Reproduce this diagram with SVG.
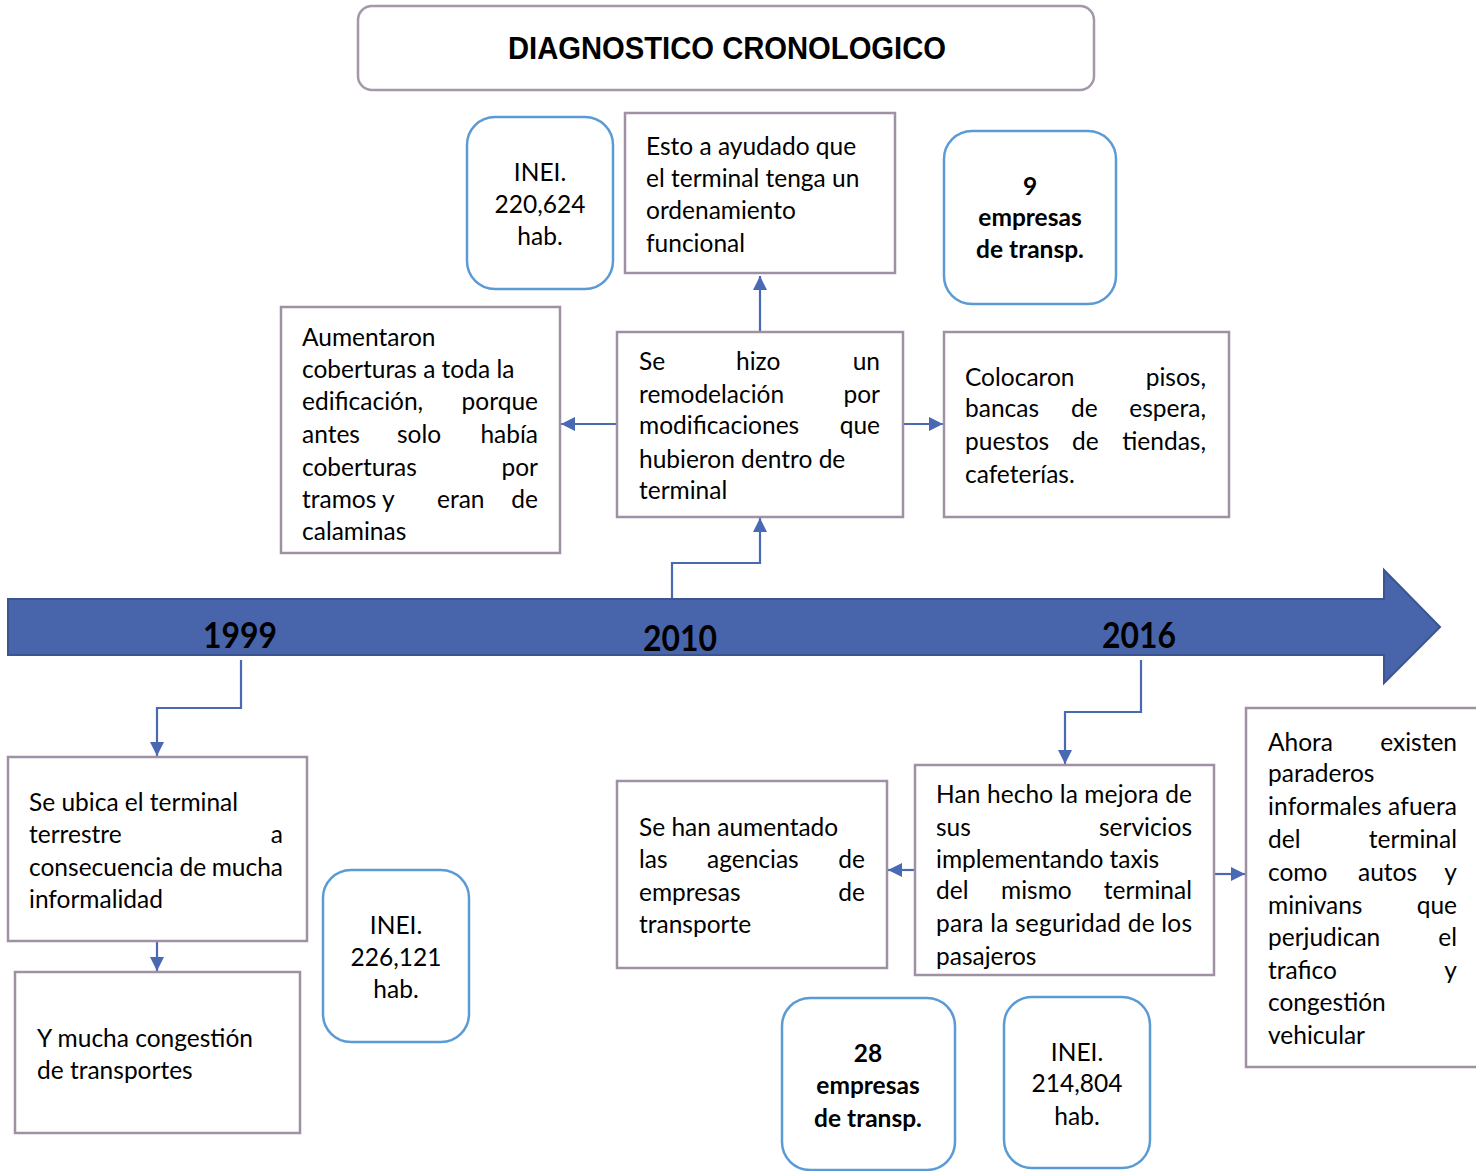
<svg xmlns="http://www.w3.org/2000/svg" width="1476" height="1171" viewBox="0 0 1476 1171">
  <style>
    .t { font-family: Lato, "Open Sans", "Liberation Sans", sans-serif; font-size: 24.5px; fill: #000; }
    .b { font-weight: bold; }
    .c { text-anchor: middle; }
    .r { text-anchor: end; }
    .box { fill: #fff; stroke: #9e91a3; stroke-width: 2.5; }
    .pill { fill: #fff; stroke: #5b9bd5; stroke-width: 2.5; }
    .link { fill: none; stroke: #4a69b3; stroke-width: 2.2; marker-end: url(#head); }
    .year { font-family: Lato, "Open Sans", "Liberation Sans", sans-serif; font-weight: bold; font-size: 36px; fill: #000; text-anchor: middle; }
  </style>
  <defs>
    <marker id="head" viewBox="0 0 10 10" refX="10" refY="5" markerUnits="userSpaceOnUse" markerWidth="15" markerHeight="14" orient="auto">
      <path d="M0,0 L10,5 L0,10 z" fill="#4a69b3"/>
    </marker>
  </defs>
  <rect width="1476" height="1171" fill="#fff"/>

  <!-- title -->
  <g id="title">
    <rect x="358" y="6" width="736" height="84" rx="14" fill="#fff" stroke="#a397a8" stroke-width="2.5"/>
    <text x="727" y="59" font-family="'Liberation Sans', Arial, sans-serif" font-weight="bold" font-size="31" text-anchor="middle" textLength="438" lengthAdjust="spacingAndGlyphs">DIAGNOSTICO CRONOLOGICO</text>
  </g>

  <!-- timeline arrow -->
  <g id="timeline">
    <path d="M8,599 H1384 V570 L1440,627 L1384,683 V655 H8 Z" fill="#4865ac" stroke="#3b5592" stroke-width="2"/>
    <text class="year" x="240" y="648" textLength="74" lengthAdjust="spacingAndGlyphs">1999</text>
    <text class="year" x="680" y="651" textLength="74" lengthAdjust="spacingAndGlyphs">2010</text>
    <text class="year" x="1139" y="648" textLength="74" lengthAdjust="spacingAndGlyphs">2016</text>
  </g>

  <!-- connectors -->
  <g id="connectors">
    <path class="link" d="M672,598 V563 H760 V518"/>
    <path class="link" d="M760,332 V276"/>
    <path class="link" d="M617,424 H561"/>
    <path class="link" d="M903,424 H943"/>
    <path class="link" d="M241,660 V708 H157 V756"/>
    <path class="link" d="M157,941 V971"/>
    <path class="link" d="M1141,660 V712 H1065 V764"/>
    <path class="link" d="M915,870 H888"/>
    <path class="link" d="M1214,874 H1245"/>
  </g>

  <!-- 2010 branch -->
  <g id="inei-2010">
    <rect class="pill" x="467" y="117" width="146" height="172" rx="28"/>
    <text class="t c" x="540" y="181">INEI.</text>
    <text class="t c" x="540" y="213">220,624</text>
    <text class="t c" x="540" y="245">hab.</text>
  </g>

  <g id="ordenamiento">
    <rect class="box" x="625" y="113" width="270" height="160"/>
    <text class="t" x="646" y="155">Esto a ayudado que</text>
    <text class="t" x="646" y="187">el terminal tenga un</text>
    <text class="t" x="646" y="219">ordenamiento</text>
    <text class="t" x="646" y="252">funcional</text>
  </g>

  <g id="empresas-2010">
    <rect class="pill" x="944" y="131" width="172" height="173" rx="28"/>
    <text class="t b c" x="1030" y="195">9</text>
    <text class="t b c" x="1030" y="226">empresas</text>
    <text class="t b c" x="1030" y="258">de transp.</text>
  </g>

  <g id="coberturas">
    <rect class="box" x="281" y="307" width="279" height="246"/>
    <text class="t" x="302" y="346">Aumentaron</text>
    <text class="t" x="302" y="378">coberturas a toda la</text>
    <text class="t" x="302" y="410">edificación,</text>
    <text class="t r" x="538" y="410">porque</text>
    <text class="t" x="302" y="443">antes</text>
    <text class="t" x="397" y="443">solo</text>
    <text class="t r" x="538" y="443">había</text>
    <text class="t" x="302" y="476">coberturas</text>
    <text class="t r" x="538" y="476">por</text>
    <text class="t" x="302" y="508">tramos y</text>
    <text class="t" x="437" y="508">eran</text>
    <text class="t r" x="538" y="508">de</text>
    <text class="t" x="302" y="540">calaminas</text>
  </g>

  <g id="remodelacion">
    <rect class="box" x="617" y="332" width="286" height="185"/>
    <text class="t" x="639" y="370">Se</text>
    <text class="t" x="736" y="370">hizo</text>
    <text class="t r" x="880" y="370">un</text>
    <text class="t" x="639" y="403">remodelación</text>
    <text class="t r" x="880" y="403">por</text>
    <text class="t" x="639" y="434">modificaciones</text>
    <text class="t r" x="880" y="434">que</text>
    <text class="t" x="639" y="468">hubieron dentro de</text>
    <text class="t" x="639" y="499">terminal</text>
  </g>

  <g id="pisos">
    <rect class="box" x="944" y="332" width="285" height="185"/>
    <text class="t" x="965" y="386">Colocaron</text>
    <text class="t r" x="1206" y="386">pisos,</text>
    <text class="t" x="965" y="417">bancas</text>
    <text class="t" x="1071" y="417">de</text>
    <text class="t r" x="1206" y="417">espera,</text>
    <text class="t" x="965" y="450">puestos</text>
    <text class="t" x="1072" y="450">de</text>
    <text class="t r" x="1206" y="450">tiendas,</text>
    <text class="t" x="965" y="483">cafeterías.</text>
  </g>

  <!-- 1999 branch -->
  <g id="ubicacion">
    <rect class="box" x="8" y="757" width="299" height="184"/>
    <text class="t" x="29" y="811">Se ubica el terminal</text>
    <text class="t" x="29" y="843">terrestre</text>
    <text class="t r" x="283" y="843">a</text>
    <text class="t" x="29" y="876">consecuencia de</text>
    <text class="t r" x="283" y="876">mucha</text>
    <text class="t" x="29" y="908">informalidad</text>
  </g>

  <g id="congestion">
    <rect class="box" x="15" y="972" width="285" height="161"/>
    <text class="t" x="37" y="1047">Y mucha congestión</text>
    <text class="t" x="37" y="1079">de transportes</text>
  </g>

  <g id="inei-1999">
    <rect class="pill" x="323" y="870" width="146" height="172" rx="28"/>
    <text class="t c" x="396" y="934">INEI.</text>
    <text class="t c" x="396" y="966">226,121</text>
    <text class="t c" x="396" y="998">hab.</text>
  </g>

  <!-- 2016 branch -->
  <g id="agencias">
    <rect class="box" x="617" y="781" width="270" height="187"/>
    <text class="t" x="639" y="836">Se han aumentado</text>
    <text class="t" x="639" y="868">las</text>
    <text class="t" x="707" y="868">agencias</text>
    <text class="t r" x="865" y="868">de</text>
    <text class="t" x="639" y="901">empresas</text>
    <text class="t r" x="865" y="901">de</text>
    <text class="t" x="639" y="933">transporte</text>
  </g>

  <g id="servicios">
    <rect class="box" x="915" y="765" width="299" height="210"/>
    <text class="t" x="936" y="803" textLength="256" lengthAdjust="spacing">Han hecho la mejora de</text>
    <text class="t" x="936" y="836">sus</text>
    <text class="t r" x="1192" y="836">servicios</text>
    <text class="t" x="936" y="868">implementando taxis</text>
    <text class="t" x="936" y="899">del</text>
    <text class="t" x="1001" y="899">mismo</text>
    <text class="t r" x="1192" y="899">terminal</text>
    <text class="t" x="936" y="932" textLength="256" lengthAdjust="spacing">para la seguridad de los</text>
    <text class="t" x="936" y="965">pasajeros</text>
  </g>

  <g id="paraderos">
    <rect class="box" x="1246" y="708" width="240" height="359"/>
    <text class="t" x="1268" y="751">Ahora</text>
    <text class="t r" x="1457" y="751">existen</text>
    <text class="t" x="1268" y="782">paraderos</text>
    <text class="t" x="1268" y="815" textLength="189" lengthAdjust="spacing">informales afuera</text>
    <text class="t" x="1268" y="848">del</text>
    <text class="t r" x="1457" y="848">terminal</text>
    <text class="t" x="1268" y="881">como</text>
    <text class="t" x="1358" y="881">autos</text>
    <text class="t r" x="1457" y="881">y</text>
    <text class="t" x="1268" y="914">minivans</text>
    <text class="t r" x="1457" y="914">que</text>
    <text class="t" x="1268" y="946">perjudican</text>
    <text class="t r" x="1457" y="946">el</text>
    <text class="t" x="1268" y="979">trafico</text>
    <text class="t r" x="1457" y="979">y</text>
    <text class="t" x="1268" y="1011">congestión</text>
    <text class="t" x="1268" y="1044">vehicular</text>
  </g>

  <g id="empresas-2016">
    <rect class="pill" x="782" y="998" width="173" height="172" rx="28"/>
    <text class="t b c" x="868" y="1062">28</text>
    <text class="t b c" x="868" y="1094">empresas</text>
    <text class="t b c" x="868" y="1127">de transp.</text>
  </g>

  <g id="inei-2016">
    <rect class="pill" x="1004" y="997" width="146" height="171" rx="28"/>
    <text class="t c" x="1077" y="1061">INEI.</text>
    <text class="t c" x="1077" y="1092">214,804</text>
    <text class="t c" x="1077" y="1125">hab.</text>
  </g>
</svg>
